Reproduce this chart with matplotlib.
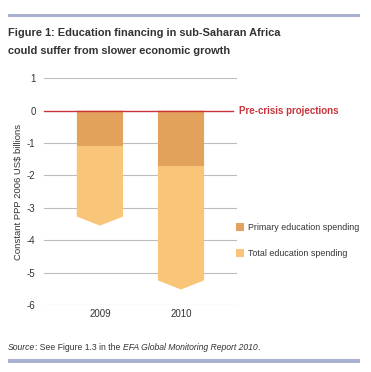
import matplotlib.pyplot as plt
from matplotlib.patches import Rectangle, Polygon

# Data
years = ['2009', '2010']
primary = [-1.1, -1.72]
total = [-3.55, -5.52]
y_ticks = [1, 0, -1, -2, -3, -4, -5, -6]

primary_color = '#E2A25C'
total_color = '#F9C578'
red = '#C9333B'
band = '#AAB0CF'
ink = '#333333'

plt.rcParams['font.family'] = ['Liberation Sans', 'DejaVu Sans']

fig = plt.figure(figsize=(3.71, 3.72), dpi=100)
ax = fig.add_axes([0.1186, 0.180, 0.520, 0.610])

width = 0.57
tip = 0.28
for i in range(len(years)):
    x0, x1 = i - width / 2, i + width / 2
    # total spending, with the chevron bottom
    ax.add_patch(Polygon([(x0, 0), (x1, 0), (x1, total[i] + tip), (i, total[i]),
                          (x0, total[i] + tip)], closed=True, color=total_color,
                         lw=0, zorder=3))
    ax.add_patch(Rectangle((x0, primary[i]), width, -primary[i],
                           color=primary_color, lw=0, zorder=4))

for v in y_ticks:
    if v != 0:
        ax.axhline(v, color='#BDBDBD', lw=0.8, zorder=1)
ax.plot([-0.69, 1.64], [0, 0], color=red, lw=1.0, zorder=5, clip_on=False)
ax.text(1.72, 0, 'Pre-crisis projections', color=red, fontsize=7,
        va='center', ha='left', fontweight='bold')

ax.set_xlim(-0.69, 1.69)
ax.set_ylim(-6, 1)
ax.set_yticks(y_ticks)
ax.set_yticklabels([str(v) for v in y_ticks], fontsize=7, color=ink)
ax.set_xticks(range(len(years)))
ax.set_xticklabels(years, fontsize=7, color=ink)
ax.tick_params(length=0, pad=6)
ax.tick_params(axis='x', pad=3)
for s in ax.spines.values():
    s.set_visible(False)
ax.set_ylabel('Constant PPP 2006 US$ billions', fontsize=6.8, color=ink,
              labelpad=3)

# legend drawn by hand
fig.patches.append(Rectangle((236 / 371, 1 - 231 / 372), 8 / 371, 8 / 372,
                             transform=fig.transFigure, color=primary_color, lw=0))
fig.text(248 / 371, 1 - 227 / 372, 'Primary education spending', fontsize=6.4,
         va='center', color=ink)
fig.patches.append(Rectangle((236 / 371, 1 - 257 / 372), 8 / 371, 8 / 372,
                             transform=fig.transFigure, color=total_color, lw=0))
fig.text(248 / 371, 1 - 253 / 372, 'Total education spending', fontsize=6.4,
         va='center', color=ink)

# title and bands
fig.patches.append(Rectangle((8 / 371, 1 - 17 / 372), 352 / 371, 3 / 372,
                             transform=fig.transFigure, color=band, lw=0))
fig.text(8 / 371, 1 - 33 / 372, 'Figure 1: Education financing in sub-Saharan Africa',
         fontsize=7.9, fontweight='bold', va='center', color=ink)
fig.text(8 / 371, 1 - 51 / 372, 'could suffer from slower economic growth',
         fontsize=7.9, fontweight='bold', va='center', color=ink)

# source line, pieces laid end to end
renderer = fig.canvas.get_renderer()
x = 8 / 371
for piece, style in [('Source', 'italic'), (': See Figure 1.3 in the ', 'normal'),
                     ('EFA Global Monitoring Report 2010', 'italic'), ('.', 'normal')]:
    t = fig.text(x, 1 - 348 / 372, piece, fontsize=6.2, style=style,
                 va='center', color=ink)
    bb = t.get_window_extent(renderer)
    x += bb.width / fig.bbox.width
fig.patches.append(Rectangle((8 / 371, 1 - 363 / 372), 352 / 371, 4 / 372,
                             transform=fig.transFigure, color=band, lw=0))

fig.savefig('out.png', dpi=100)
